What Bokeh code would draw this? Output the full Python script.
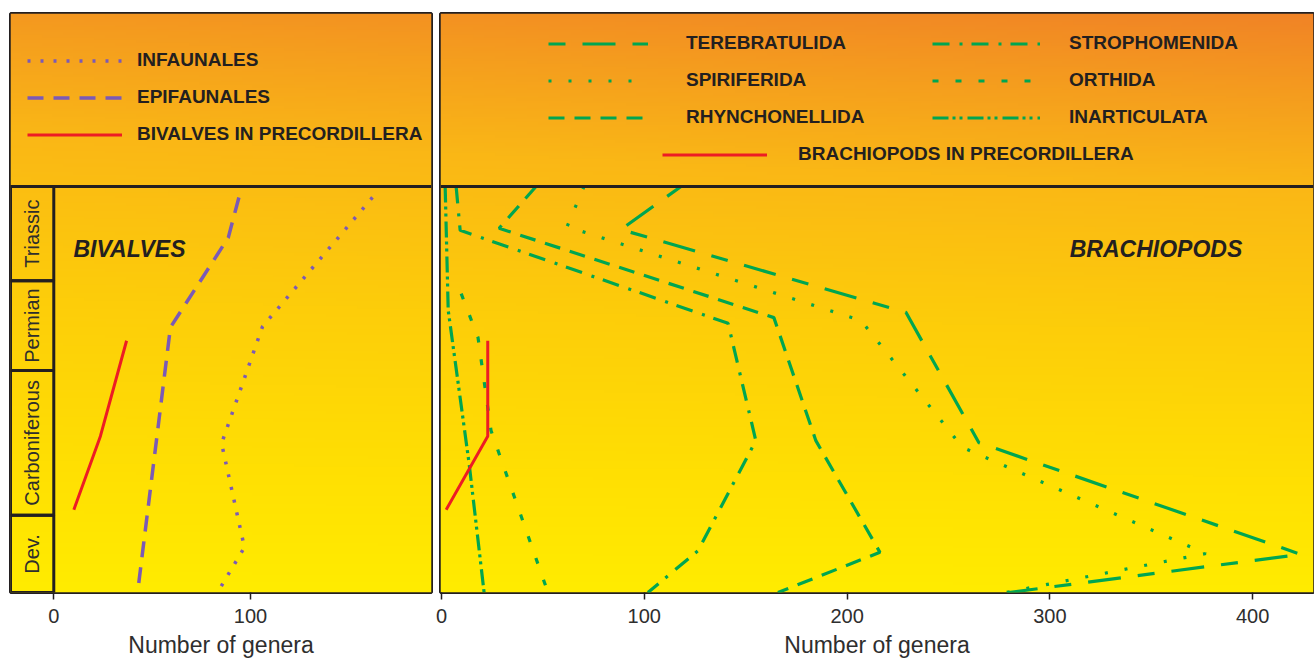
import numpy as np
from bokeh.plotting import figure
from bokeh.models import Legend, LegendItem, Label, Span, FixedTicker, Range1d
from bokeh.layouts import row
from bokeh.core.properties import value
from bokeh.embed import file_html
from bokeh.resources import INLINE

# ---------------- data ----------------
# stratigraphic level (relative units, 0 = base of chart, 100 = top of Triassic)
periods = ["Dev.", "Carboniferous", "Permian", "Triassic"]
period_base = [0.0, 19.0, 54.7, 76.8]
period_top = [19.0, 54.7, 76.8, 100.0]

# Bivalves (number of genera)
infaunales_genera = [162.0, 106.1, 85.3, 96.9, 83.2]
infaunales_level = [97.3, 65.5, 36.7, 11.1, 0.0]
epifaunales_genera = [94.1, 88.7, 59.3, 42.6]
epifaunales_level = [97.3, 87.4, 65.3, 0.0]
bivalves_prec_genera = [37.0, 23.7, 10.2]
bivalves_prec_level = [62.0, 38.5, 20.4]

# Brachiopods (number of genera)
terebratulida_genera = [118.1, 88.5, 229.0, 265.0, 423.7, 279.7]
terebratulida_level = [100.0, 89.4, 69.0, 36.9, 9.4, 0.0]
spiriferida_genera = [70.3, 61.9, 206.8, 257.0, 376.9, 278.3]
spiriferida_level = [100.0, 90.1, 67.0, 35.7, 9.6, 0.0]
rhynchonellida_genera = [46.6, 28.4, 163.9, 184.6, 216.2, 165.9]
rhynchonellida_level = [100.0, 89.7, 67.7, 37.4, 9.9, 0.0]
strophomenida_genera = [7.2, 9.2, 141.3, 155.0, 126.5, 101.8]
strophomenida_level = [100.0, 89.2, 66.3, 37.4, 10.3, 0.0]
orthida_genera = [9.7, 18.0, 24.4, 52.5]
orthida_level = [73.6, 62.8, 39.9, 0.0]
inarticulata_genera = [1.8, 3.3, 13.6, 21.0]
inarticulata_level = [100.0, 69.5, 31.8, 0.0]
brachiopods_prec_genera = [22.8, 22.8, 2.3]
brachiopods_prec_level = [62.0, 38.5, 20.4]

left_ticks = [0, 100]
right_ticks = [0, 100, 200, 300, 400]

# ---------------- style ----------------
INK = "#231F20"
TXT = "#2E2E2E"
PURPLE = "#7B5AB6"
GREEN = "#00A651"
RED = "#ED1C24"
FONT = "Liberation Sans"

Y_TOP = 142.6          # top of the legend box, in level units
LEFT_XR = (-22.0, 192.0)
RIGHT_XR = (-0.5, 430.0)
FRAME_H = 579


def gradient(nx, ny, px0, px1, py0=13.0, py1=592.0):
    cols = (np.arange(nx) + 0.5) / nx
    rows = (np.arange(ny) + 0.5) / ny
    X = px0 + cols * (px1 - px0)
    Y = py1 - rows * (py1 - py0)
    XX, YY = np.meshgrid(X, Y)
    v = (YY - 13.0) / 579.0
    t = np.clip(v + 0.12 * (1 - XX / 1314.0) * (1 - v), 0, 1)
    st = [0.0, 0.15, 0.30, 0.55, 0.80, 1.0]
    r = np.interp(t, st, [241, 245, 250, 253, 255, 255])
    g = np.interp(t, st, [131, 158, 183, 205, 223, 236])
    b = np.interp(t, st, [38, 30, 22, 10, 3, 0])
    img = np.zeros((ny, nx), dtype=np.uint32)
    view = img.view(dtype=np.uint8).reshape((ny, nx, 4))
    view[..., 0] = r.astype(np.uint8)
    view[..., 1] = g.astype(np.uint8)
    view[..., 2] = b.astype(np.uint8)
    view[..., 3] = 255
    return img


def make_fig(xr, frame_w, ticks, bl, br, px0, px1, nx):
    p = figure(x_range=Range1d(*xr), y_range=Range1d(0, Y_TOP),
               frame_width=frame_w, frame_height=FRAME_H,
               output_backend="svg", toolbar_location=None,
               y_axis_location=None,
               min_border_left=bl, min_border_right=br,
               min_border_top=13, min_border_bottom=0,
               border_fill_color="white")
    p.grid.visible = False
    p.outline_line_color = INK
    p.outline_line_width = 3
    p.image_rgba(image=[gradient(nx, 220, px0, px1)], x=xr[0], y=0,
                 dw=xr[1] - xr[0], dh=Y_TOP)
    ax = p.xaxis[0]
    ax.ticker = FixedTicker(ticks=ticks)
    ax.axis_line_color = None
    ax.major_tick_in = 0
    ax.major_tick_out = 7
    ax.major_tick_line_color = INK
    ax.major_tick_line_width = 1.5
    ax.minor_tick_line_color = None
    ax.major_label_text_font = FONT
    ax.major_label_text_font_size = "20px"
    ax.major_label_text_color = TXT
    ax.major_label_standoff = 9
    ax.axis_label = "Number of genera"
    ax.axis_label_text_font = FONT
    ax.axis_label_text_font_size = "23px"
    ax.axis_label_text_font_style = "normal"
    ax.axis_label_text_color = TXT
    ax.axis_label_standoff = 6
    p.add_layout(Span(location=100, dimension="width", line_color=INK, line_width=3))
    return p


def add_legend(p, items, loc, glyph_w, standoff):
    lg = Legend(items=items, location=loc, orientation="vertical",
                glyph_width=glyph_w, glyph_height=37, label_height=37,
                label_standoff=standoff, spacing=0, padding=0, margin=0,
                border_line_color=None, background_fill_alpha=0,
                label_text_font=FONT, label_text_font_style="bold",
                label_text_font_size="19px", label_text_color=INK)
    p.add_layout(lg)


# ---------------- left panel: bivalves ----------------
pl = make_fig(LEFT_XR, 421, left_ticks, 10, 3, 10, 431, 40)

# period column
pl.quad(left=LEFT_XR[0], right=0, bottom=period_base, top=period_top,
        fill_alpha=0, line_color=INK, line_width=3)
mids = [(a + b) / 2 for a, b in zip(period_base, period_top)]
pl.text(x=[LEFT_XR[0] / 2] * len(periods), y=mids, text=periods,
        angle=np.pi / 2, text_align="center", text_baseline="middle",
        text_font=value(FONT), text_font_size="20px", text_color=TXT)

r_inf = pl.line(infaunales_genera, infaunales_level, line_color=PURPLE,
                line_width=3.5, line_dash="3 10")
r_epi = pl.line(epifaunales_genera, epifaunales_level, line_color=PURPLE,
                line_width=3.5, line_dash="16 10")
r_bpr = pl.line(bivalves_prec_genera, bivalves_prec_level, line_color=RED,
                line_width=3)

pl.add_layout(Label(x=10, y=84.5, text="BIVALVES", text_font=FONT,
                    text_font_style="bold italic", text_font_size="23px",
                    text_color=INK, text_baseline="middle"))

add_legend(pl, [LegendItem(label="INFAUNALES", renderers=[r_inf]),
                LegendItem(label="EPIFAUNALES", renderers=[r_epi]),
                LegendItem(label="BIVALVES IN PRECORDILLERA", renderers=[r_bpr])],
           (17, 439.5), 95, 15)

# ---------------- right panel: brachiopods ----------------
pr = make_fig(RIGHT_XR, 873, right_ticks, 6, 1, 440, 1313, 80)

r_ter = pr.line(terebratulida_genera, terebratulida_level, line_color=GREEN,
                line_width=3.2, line_dash="17 17 33 17")
r_spi = pr.line(spiriferida_genera, spiriferida_level, line_color=GREEN,
                line_width=3.2, line_dash="3 17")
r_rhy = pr.line(rhynchonellida_genera, rhynchonellida_level, line_color=GREEN,
                line_width=3.2, line_dash="16 10")
r_str = pr.line(strophomenida_genera, strophomenida_level, line_color=GREEN,
                line_width=3.2, line_dash="17 10 3 9")
r_ort = pr.line(orthida_genera, orthida_level, line_color=GREEN,
                line_width=3.2, line_dash="6 17")
r_ina = pr.line(inarticulata_genera, inarticulata_level, line_color=GREEN,
                line_width=3.2, line_dash="16 4 3 4 3 5")
r_brp = pr.line(brachiopods_prec_genera, brachiopods_prec_level, line_color=RED,
                line_width=3)

pr.add_layout(Label(x=309.8, y=84.7, text="BRACHIOPODS", text_font=FONT,
                    text_font_style="bold italic", text_font_size="23px",
                    text_color=INK, text_baseline="middle"))

add_legend(pr, [LegendItem(label="TEREBRATULIDA", renderers=[r_ter]),
                LegendItem(label="SPIRIFERIDA", renderers=[r_spi]),
                LegendItem(label="RHYNCHONELLIDA", renderers=[r_rhy])],
           (108, 456.5), 100, 38)
add_legend(pr, [LegendItem(label="STROPHOMENIDA", renderers=[r_str]),
                LegendItem(label="ORTHIDA", renderers=[r_ort]),
                LegendItem(label="INARTICULATA", renderers=[r_ina])],
           (492, 456.5), 108, 29)
add_legend(pr, [LegendItem(label="BRACHIOPODS IN PRECORDILLERA", renderers=[r_brp])],
           (222, 419.5), 105, 31)

layout = row(pl, pr, spacing=0)
open("out.html", "w").write(file_html(layout, INLINE, "Bivalves and brachiopods"))
